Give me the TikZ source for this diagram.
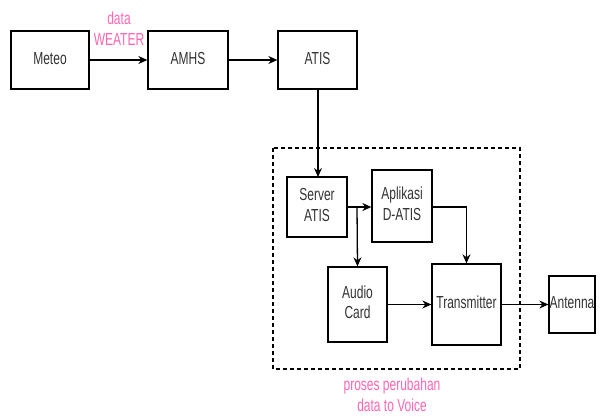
\documentclass[tikz,border=0pt]{standalone}
\usepackage{fontspec}
\usepackage{graphicx}
\setmainfont{Liberation Sans}
\usetikzlibrary{arrows.meta}
\definecolor{pinklbl}{RGB}{255,102,179}
\newcommand{\sttxt}[1]{\scalebox{1}[1.45]{\begin{tabular}{@{}c@{}}#1\end{tabular}}}
\begin{document}
\begin{tikzpicture}[x=1pt,y=-1pt,
  blk/.style={draw,line width=1.3pt,inner sep=0pt,align=center,font=\fontsize{12}{14}\selectfont,text=black!80},
  conn/.style={line width=1.3pt,-{Stealth[length=9pt,width=8pt]}},
  lbl/.style={align=center,text=pinklbl,font=\fontsize{12}{14}\selectfont,inner sep=0pt}]
\useasboundingbox (0,0) rectangle (601,416);
\node[blk,minimum width=78pt,minimum height=58pt] (meteo) at (50,60) {\sttxt{Meteo}};
\node[blk,minimum width=80pt,minimum height=58pt] (amhs) at (188,60) {\sttxt{AMHS}};
\node[blk,minimum width=79pt,minimum height=58pt] (atis) at (317.5,60) {\sttxt{ATIS}};
\node[blk,minimum width=60pt,minimum height=60pt] (server) at (317,207) {\sttxt{Server\\ATIS}};
\node[blk,minimum width=60pt,minimum height=72pt] (apl) at (402,206) {\sttxt{Aplikasi\\D-ATIS}};
\node[blk,minimum width=59pt,minimum height=75pt] (audio) at (357.5,304.5) {\sttxt{Audio\\Card}};
\node[blk,minimum width=69pt,minimum height=81pt] (tx) at (466.5,304.5) {\sttxt{Transmitter}};
\node[blk,minimum width=46pt,minimum height=57pt] (ant) at (572,304.5) {\sttxt{Antenna}};
\draw[dashed,line width=1.2pt,dash pattern=on 4pt off 3pt] (273,148) rectangle (520,369);
\node[lbl] (lbl1) at (119,31) {\sttxt{data\\WEATER}};
\node[lbl] (lbl2) at (392,397) {\sttxt{proses perubahan\\data to Voice}};
\draw[conn] (meteo) -- (amhs);
\draw[conn] (amhs) -- (atis);
\draw[conn] (atis.south -| 318,0) -- (318,177);
\draw[conn] (server.east) -- (apl.west |- server.east);
\draw[conn] (357,207) -- (audio.north);
\draw[conn] (apl.east |- 0,207) -| (tx.north);
\draw[conn] (audio.east) -- (tx.west);
\draw[conn] (tx.east) -- (ant.west);
\end{tikzpicture}
\end{document}
